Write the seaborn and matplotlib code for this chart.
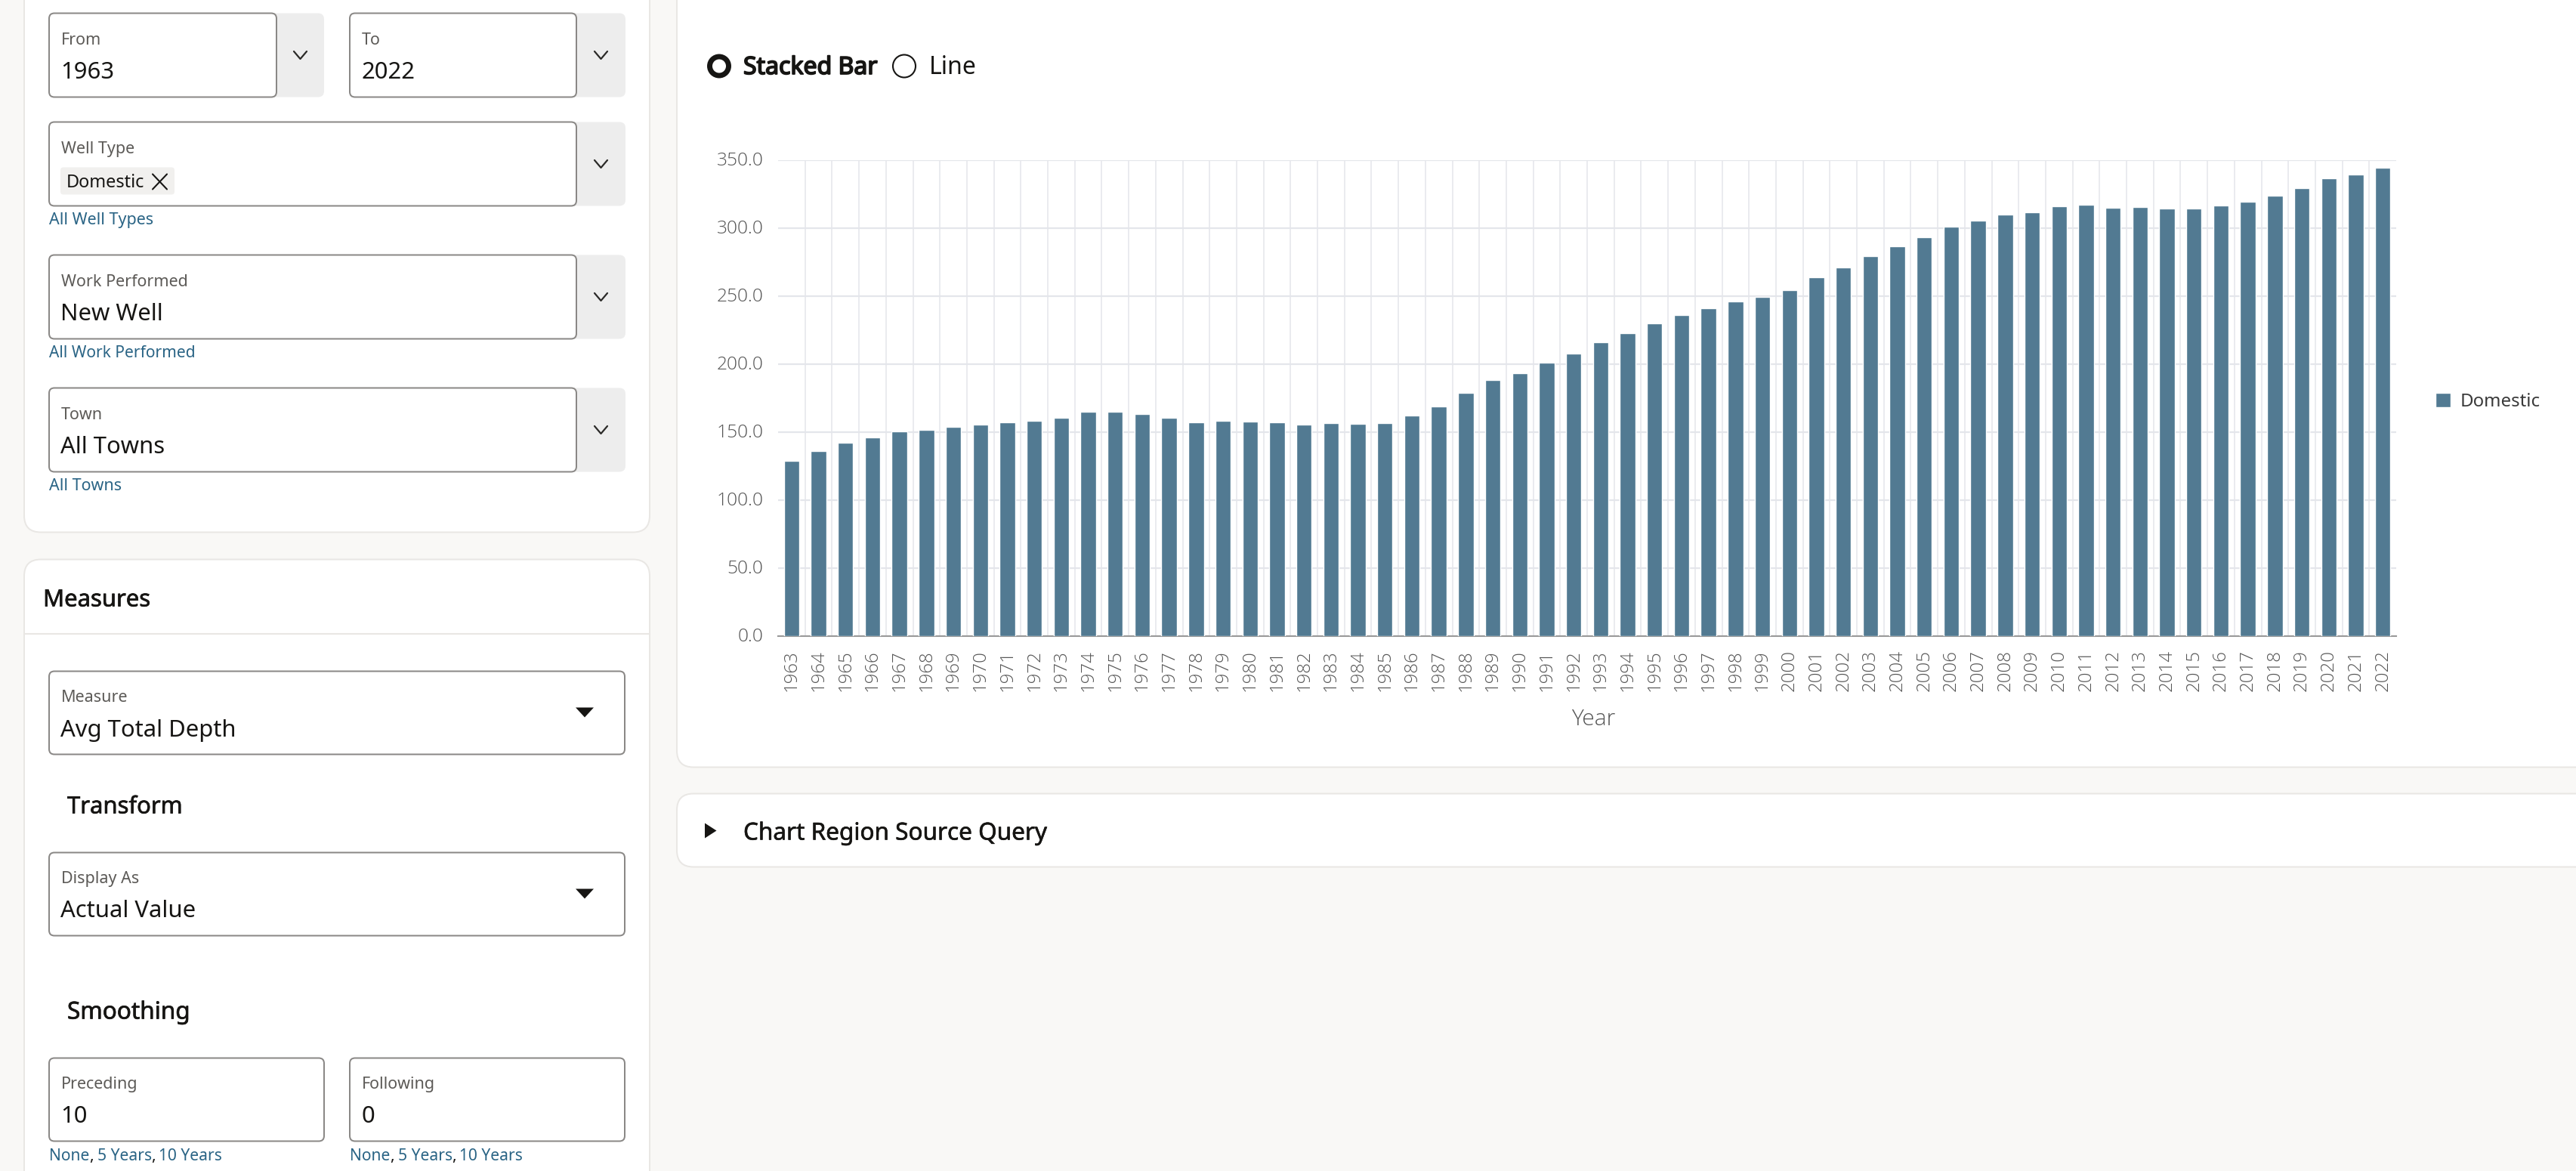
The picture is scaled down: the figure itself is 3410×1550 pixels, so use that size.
import numpy as np
import pandas as pd
import matplotlib
matplotlib.use('Agg')
import matplotlib.pyplot as plt
import matplotlib.patheffects as pe
import matplotlib.transforms as mtrans
import seaborn as sns
from matplotlib.patches import FancyBboxPatch, Circle, Polygon

years = list(range(1963, 2023))
avg_depth = [129.0, 136.3, 142.4, 146.0, 150.3, 151.8, 153.7, 155.8, 157.3, 158.5,
             160.4, 165.2, 165.0, 163.4, 160.4, 157.3, 158.2, 157.9, 157.3, 155.8,
             156.4, 156.1, 156.4, 162.2, 168.9, 178.7, 188.1, 193.6, 200.9, 207.9,
             216.2, 222.9, 229.9, 236.0, 241.2, 246.0, 249.7, 254.6, 263.7, 271.3,
             279.3, 286.9, 293.6, 300.9, 305.8, 309.8, 311.6, 316.2, 317.4, 314.9,
             315.5, 314.6, 314.6, 316.5, 319.2, 323.8, 329.3, 336.6, 339.6, 344.2]
y_ticks = [0, 50, 100, 150, 200, 250, 300, 350]

BAR = '#527a92'
BG = '#f9f8f6'
EDGE = '#e9e7e4'
GRID = '#e4e6eb'
TICK = '#555555'
INK = '#161513'
LABEL = '#5c5a57'
LINK = '#2a6485'
BOX = '#8a8886'
BTN = '#ededed'
UI_FONT = 'Noto Sans'
W, H = 3410, 1550


def fs(px):
    return px * 0.72


sns.set_theme(style='white')
plt.rcParams['font.family'] = [UI_FONT, 'DejaVu Sans']

fig = plt.figure(figsize=(W / 100, H / 100), dpi=100, facecolor=BG)
ui = fig.add_axes([0, 0, 1, 1])
ui.set_xlim(0, W)
ui.set_ylim(H - 1.5, -1.5)
ui.axis('off')


def rbox(x0, y0, x1, y1, r=8, fc='white', ec=BOX, lw=2.0, z=2):
    p = FancyBboxPatch((x0 + r, y0 + r), x1 - x0 - 2 * r, y1 - y0 - 2 * r,
                       boxstyle='round,pad=%d,rounding_size=%d' % (r, r),
                       fc=fc, ec=ec, lw=lw * 0.72, zorder=z)
    ui.add_patch(p)


def txt(x, y, s, px, color=INK, stroke=0, **kw):
    t = ui.text(x, y + 3, s, fontsize=fs(px), color=color, va='center', ha=kw.pop('ha', 'left'), zorder=5, **kw)
    if stroke:
        t.set_path_effects([pe.withStroke(linewidth=stroke, foreground=color)])


def chevron(x, y):
    ui.plot([x - 8.5, x, x + 8.5], [y - 5, y + 5, y - 5], color='#2b2a28', lw=1.6, zorder=5)


def field(x0, x1, y0, y1, label, value, btn_to=None):
    if btn_to:
        rbox(x1 - 20, y0, btn_to, y1, fc=BTN, ec=BTN, lw=0, z=2)
        chevron((x1 + btn_to) / 2, (y0 + y1) / 2)
    rbox(x0, y0, x1, y1, r=7)
    txt(x0 + 16, y0 + 33, label, 21.5, color=LABEL)
    if value:
        txt(x0 + 15, y0 + 76, value, 31)


def down_arrow(x, y):
    ui.add_patch(Polygon([(x - 12, y - 6), (x + 12, y - 6), (x, y + 7)], fc=INK, ec='none', zorder=5))


def year_links(x):
    # separate pieces, the commas are dark in the page
    txt(x, 1526, 'None', 21, color=LINK)
    txt(x + 53, 1526, ',', 21, color=INK)
    txt(x + 64, 1526, '5 Years', 21, color=LINK)
    txt(x + 135, 1526, ',', 21, color=INK)
    txt(x + 145, 1526, '10 Years', 21, color=LINK)


# left panels
rbox(32, -40, 860, 703, r=22, ec=EDGE)
field(65, 366, 16, 127, 'From', '1963', btn_to=429)
field(463, 763, 16, 127, 'To', '2022', btn_to=828)
field(65, 763, 160, 271, 'Well Type', None, btn_to=828)
rbox(80, 220, 231, 256, r=4, fc='#f1f0ee', ec='#f1f0ee', lw=0, z=3)
txt(88, 237, 'Domestic', 23.5)
ui.plot([202, 221], [229, 249], color=INK, lw=1.5, zorder=5)
ui.plot([202, 221], [249, 229], color=INK, lw=1.5, zorder=5)
txt(65, 287, 'All Well Types', 21.5, color=LINK)
field(65, 763, 336, 447, 'Work Performed', 'New Well', btn_to=828)
txt(65, 463, 'All Work Performed', 21, color=LINK)
field(65, 763, 512, 623, 'Town', 'All Towns', btn_to=828)
txt(65, 639, 'All Towns', 21.5, color=LINK)

rbox(32, 739, 860, 1600, r=22, ec=EDGE)
ui.plot([32, 860], [837, 837], color=EDGE, lw=1.5, zorder=3)
txt(57, 790, 'Measures', 31, stroke=0.5)
rbox(65, 887, 827, 997, r=7)
txt(81, 919, 'Measure', 21.5, color=LABEL)
txt(80, 963, 'Avg Total Depth', 31)
down_arrow(774, 941)
txt(89, 1064, 'Transform', 31, stroke=0.5)
rbox(65, 1127, 827, 1237, r=7)
txt(81, 1159, 'Display As', 21.5, color=LABEL)
txt(80, 1202, 'Actual Value', 31)
down_arrow(774, 1181)
txt(89, 1336, 'Smoothing', 31.5, stroke=0.5)
rbox(65, 1399, 429, 1509, r=7)
txt(81, 1431, 'Preceding', 21.5, color=LABEL)
txt(80, 1474, '10', 31)
rbox(463, 1399, 827, 1509, r=7)
txt(479, 1431, 'Following', 21.5, color=LABEL)
txt(478, 1474, '0', 31)
year_links(65)
year_links(463)

# right panels
rbox(896, -40, 3460, 1014, r=22, ec=EDGE)
rbox(896, 1049, 3460, 1146, r=22, ec=EDGE)
ui.add_patch(Circle((952, 86), 12.5, fc='white', ec=INK, lw=5, zorder=5))
txt(984, 85, 'Stacked Bar', 32, stroke=1.3)
ui.add_patch(Circle((1197, 86), 15, fc='white', ec=INK, lw=1.5, zorder=5))
txt(1230, 85, 'Line', 32)
ui.add_patch(Polygon([(933, 1088), (948.5, 1098), (933, 1108)], fc=INK, ec='none', zorder=5))
txt(984, 1099, 'Chart Region Source Query', 31.5, stroke=0.4)

# chart
ax = fig.add_axes([1030 / W, (H - 842) / H, 2142 / W, 630 / H], facecolor='none', zorder=3)
df = pd.DataFrame({'Year': [str(y) for y in years], 'Depth': avg_depth, 'Type': 'Domestic'})
sns.barplot(data=df, x='Year', y='Depth', hue='Type', palette=[BAR], width=0.57, saturation=1,
            dodge=False, ax=ax, zorder=3)
ax.set_xlim(-0.5, len(years) - 0.5)
ax.set_ylim(0, 350)
ax.set_yticks(y_ticks)
ax.set_yticklabels(['%.1f' % v for v in y_ticks])
ax.set_xticks(np.arange(0.5, len(years) - 1), minor=True)
ax.grid(axis='y', which='major', color=GRID, lw=1.6)
ax.grid(axis='x', which='minor', color=GRID, lw=1.1)
ax.grid(axis='x', which='major', visible=False)
ax.set_axisbelow(True)
sns.despine(ax=ax, left=True)
ax.spines['bottom'].set_color('#9a9a9a')
ax.spines['bottom'].set_linewidth(1.5)
ax.tick_params(axis='x', which='both', length=0, pad=13, labelsize=fs(24), labelcolor=TICK, rotation=90)
ax.tick_params(axis='y', which='both', length=0, pad=14, labelsize=fs(24.5), labelcolor=TICK)
for t in ax.get_xticklabels() + ax.get_yticklabels():
    t.set_fontfamily('Open Sans')
    t.set_fontweight('light')
# y labels sit a little above their gridlines
up = mtrans.ScaledTranslation(0, 2 / 100, fig.dpi_scale_trans)
for t in ax.get_yticklabels():
    t.set_transform(t.get_transform() + up)
ax.set_ylabel('')
ax.set_xlabel('Year', fontsize=fs(30), color=TICK, labelpad=0, fontfamily='Open Sans', fontweight='light')
ax.xaxis.set_label_coords((2109 - 1030) / 2142, -(952 - 842) / 630, transform=ax.transAxes)
ax.xaxis.label.set_va('center')
leg = ax.legend(loc='center left', bbox_to_anchor=((3224 - 1030) / 2142, (842 - 532) / 630),
                frameon=False, fontsize=fs(24), handlelength=0.83, handleheight=0.83,
                handletextpad=0.55, borderpad=0, borderaxespad=0, labelcolor='#3a3a3a')

fig.savefig('out.png', dpi=100, facecolor=BG)
